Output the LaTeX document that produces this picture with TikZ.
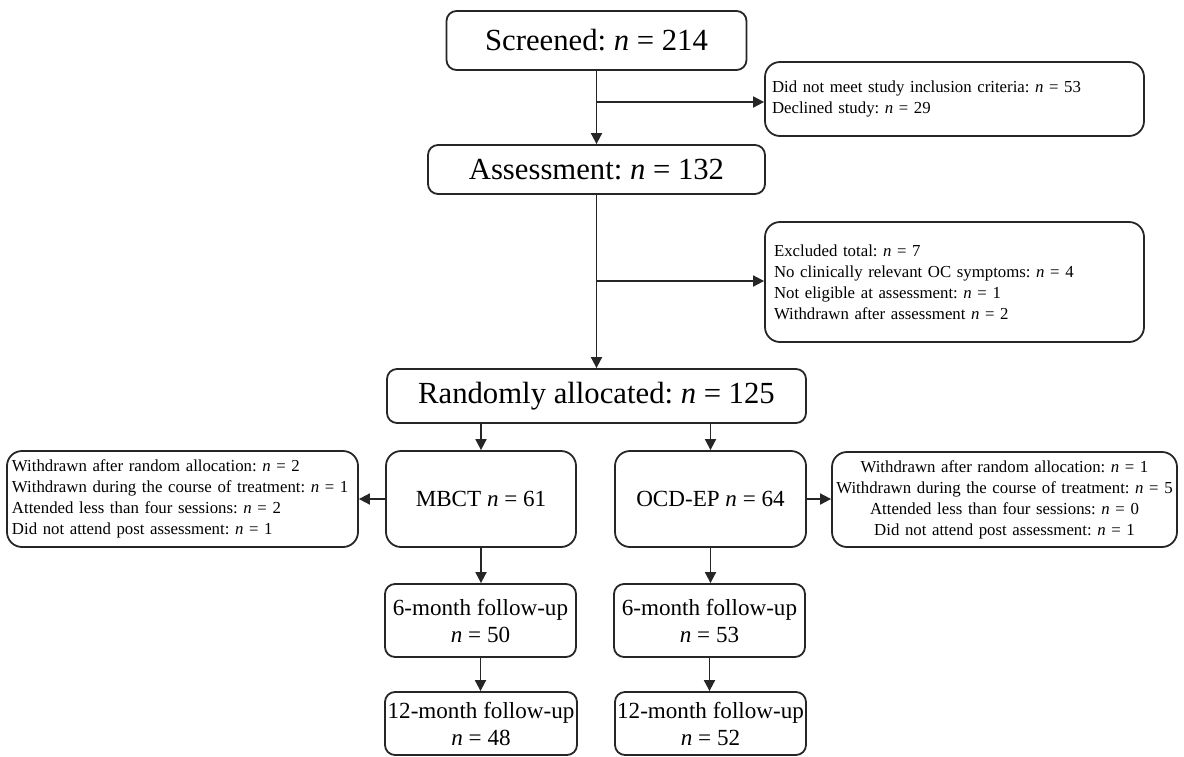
\documentclass[tikz,border=0pt]{standalone}
\usepackage{fontspec}
\setmainfont{Liberation Serif}
\usetikzlibrary{arrows.meta}
\frenchspacing
\begin{document}
\begin{tikzpicture}[x=1pt,y=-1pt,
 box/.style={draw=black!85, line width=1.8pt, rounded corners=10pt, inner sep=0pt, align=center},
 tall/.style={rounded corners=15pt},
 big/.style={font=\fontsize{30.7}{36}\selectfont},
 mid/.style={font=\fontsize{23.1}{27}\selectfont},
 small/.style={font=\fontsize{16.8}{21}\selectfont},
 arr/.style={draw=black!85, line width=1.8pt, -{Triangle[length=11pt,width=11pt]}}
]
\useasboundingbox (0,0) rectangle (1184,756);
% main column
\node[box,big,minimum width=300pt,minimum height=59pt] (scr) at (596.5,40.5) {Screened: \textit{n} = 214};
\node[box,big,minimum width=337pt,minimum height=49pt] (ass) at (596.5,169.5) {Assessment: \textit{n} = 132};
\node[box,big,minimum width=419pt,minimum height=54pt] (rnd) at (596.5,396) {Randomly allocated: \textit{n} = 125};
% exclusion boxes
\node[box,tall,small,align=left,text width=365pt,inner xsep=7pt,minimum height=74pt] (dnm) at (954.5,99)
  {Did not meet study inclusion criteria: \textit{n} = 53\\Declined study: \textit{n} = 29};
\node[box,tall,small,align=left,text width=361pt,inner xsep=9pt,minimum height=120pt] (exc) at (954.5,282)
  {Excluded total: \textit{n} = 7\\No clinically relevant OC symptoms: \textit{n} = 4\\Not eligible at assessment: \textit{n} = 1\\Withdrawn after assessment \textit{n} = 2};
% arms
\node[box,tall,mid,minimum width=190pt,minimum height=96pt] (mbct) at (481,499) {MBCT \textit{n} = 61};
\node[box,tall,mid,minimum width=191pt,minimum height=96pt] (ocd) at (710.5,499) {OCD-EP \textit{n} = 64};
\node[box,tall,small,align=left,text width=341pt,inner xsep=5pt,minimum height=96pt] (lw) at (182.5,499)
  {Withdrawn after random allocation: \textit{n} = 2\\Withdrawn during the course of treatment: \textit{n} = 1\\Attended less than four sessions: \textit{n} = 2\\Did not attend post assessment: \textit{n} = 1};
\node[box,tall,small,align=center,text width=345pt,inner xsep=0pt,minimum height=95pt] (rw) at (1004.5,499.5)
  {Withdrawn after random allocation: \textit{n} = 1\\Withdrawn during the course of treatment: \textit{n} = 5\\Attended less than four sessions: \textit{n} = 0\\Did not attend post assessment: \textit{n} = 1};
% follow-ups
\node[box,mid,minimum width=191pt,minimum height=73pt] (m6) at (480.5,620.5) {6-month follow-up\\\textit{n} = 50};
\node[box,mid,minimum width=191pt,minimum height=73pt] (o6) at (709.5,620.5) {6-month follow-up\\\textit{n} = 53};
\node[box,mid,minimum width=192pt,minimum height=63pt] (m12) at (481,723.5) {12-month follow-up\\\textit{n} = 48};
\node[box,mid,minimum width=191pt,minimum height=63pt] (o12) at (710.5,723.5) {12-month follow-up\\\textit{n} = 52};
% connectors
\coordinate (b1) at (596.5,102);
\coordinate (b2) at (596.5,281);
\draw[arr] (scr.south) -- (ass.north);
\draw[arr] (b1) -- (dnm.west |- b1);
\draw[arr] (ass.south) -- (rnd.north);
\draw[arr] (b2) -- (exc.west |- b2);
\draw[arr] (rnd.south -| mbct.north) -- (mbct.north);
\draw[arr] (rnd.south -| ocd.north) -- (ocd.north);
\draw[arr] (mbct.west) -- (lw.east |- mbct.west);
\draw[arr] (ocd.east) -- (rw.west |- ocd.east);
\draw[arr] (mbct.south) -- (mbct.south |- m6.north);
\draw[arr] (m6.south) -- (m6.south |- m12.north);
\draw[arr] (ocd.south) -- (ocd.south |- o6.north);
\draw[arr] (o6.south) -- (o6.south |- o12.north);
\end{tikzpicture}
\end{document}
